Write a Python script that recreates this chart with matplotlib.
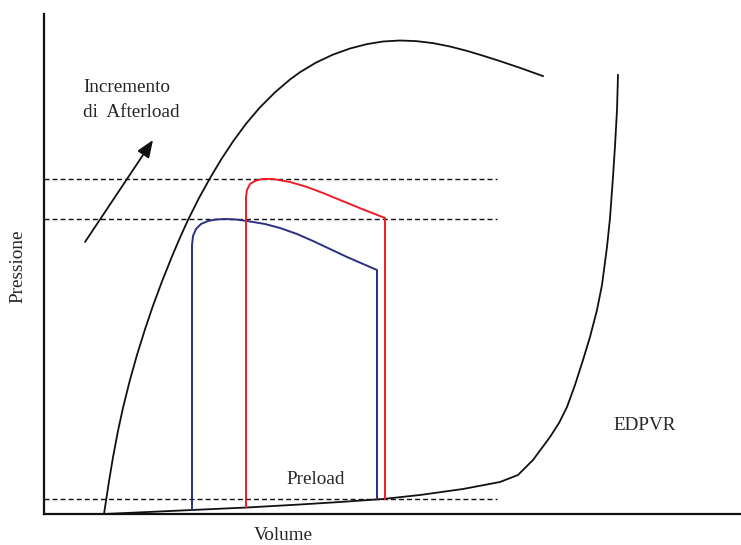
import matplotlib
matplotlib.use("Agg")
import matplotlib.pyplot as plt

plt.rcParams['font.family'] = ['Liberation Serif', 'DejaVu Serif']

# End-systolic pressure-volume relation (arbitrary units)
espvr_v = [60, 65, 69, 74, 79, 86, 93, 101, 109, 118, 128, 136, 144, 155, 166, 177, 189, 202,
           216, 231, 246, 256, 272, 289, 306, 323, 339, 356, 372, 389, 406, 423, 439, 456, 477, 499]
espvr_p = [0, 32.7, 56.7, 83.2, 106.2, 134.2, 159.1, 184.7, 208.3, 232.6, 257.6, 276.4, 294,
           316, 335.8, 354.3, 372.5, 390.2, 406.7, 421.7, 434.5, 441.8, 451.4, 459.4, 465.5,
           469.9, 472.5, 473.5, 472.9, 470.9, 467.5, 463.1, 458.3, 452.9, 445.8, 437.9]

# End-diastolic pressure-volume relation
edpvr_v = [60, 148, 203, 256, 296, 339, 376, 419, 456, 474, 489, 506, 515, 523, 531, 539, 546,
           553, 558, 563, 566, 569, 571, 573, 574]
edpvr_p = [0, 4, 6.5, 9.5, 12, 15, 19, 25, 32, 39, 54, 77, 91, 107, 129, 154, 177,
           204, 229, 267, 296, 337, 368, 404, 439]

# Baseline loop
blue_v = [148, 148, 149, 152, 157, 164, 172, 181, 192, 203, 221, 236, 253, 269, 286, 303, 333, 333]
blue_p = [4, 269, 278, 285, 290, 293, 294.5, 295, 294.5, 293, 290, 286, 280, 273, 265, 257, 244, 15]

# Loop with increased afterload
red_v = [202, 202, 203, 206, 211, 218, 229, 246, 263, 279, 296, 318, 341, 341]
red_p = [6.5, 317, 324, 330, 333, 335, 335, 332, 327, 321, 314, 305, 296, 15]

# Reference pressure levels
level_p = [335, 295, 15]
level_v_end = 453

fig = plt.figure(figsize=(7.41, 5.45), dpi=100)
ax = fig.add_axes([44 / 741, 31 / 545, 697 / 741, 500 / 545])
ax.set_xlim(0, 697)
ax.set_ylim(0, 500)
ax.set_xticks([])
ax.set_yticks([])
for s in ('top', 'right'):
    ax.spines[s].set_visible(False)
for s in ('left', 'bottom'):
    ax.spines[s].set_linewidth(1.6)
    ax.spines[s].set_color('#111111')

for p in level_p:
    ln, = ax.plot([0, level_v_end], [p, p], color='#111111', lw=1.0)
    ln.set_dashes((3.6, 2.2))

ax.plot(espvr_v, espvr_p, color='#111111', lw=1.3, solid_joinstyle='round')
ax.plot(edpvr_v, edpvr_p, color='#111111', lw=1.3, solid_joinstyle='round')
ax.plot(blue_v, blue_p, color='#2b2f82', lw=1.4, solid_joinstyle='round')
ax.plot(red_v, red_p, color='#ee1c24', lw=1.4, solid_joinstyle='round')

ax.annotate('', xy=(109, 374), xytext=(41, 272),
            arrowprops=dict(arrowstyle='-|>,head_length=1.05,head_width=0.42',
                            color='#111111', lw=1.3, shrinkA=0, shrinkB=0))

fs = 13.8
tc = '#262626'
ax.text(39, 426, 'Incremento', fontsize=fs, ha='left', va='center', color=tc)
ax.text(39, 401, 'di  Afterload', fontsize=fs, ha='left', va='center', color=tc)
ax.text(272, 35, 'Preload', fontsize=fs, ha='center', va='center', color=tc)
ax.text(601, 89, 'EDPVR', fontsize=fs, ha='center', va='center', color=tc)
fig.text(283 / 741, 1 - 536 / 545, 'Volume', fontsize=fs, ha='center', va='center', color=tc)
fig.text(18 / 741, 1 - 266 / 545, 'Pressione', fontsize=fs, ha='center', va='center',
         rotation=90, color=tc)

fig.savefig('out.png', dpi=100)
